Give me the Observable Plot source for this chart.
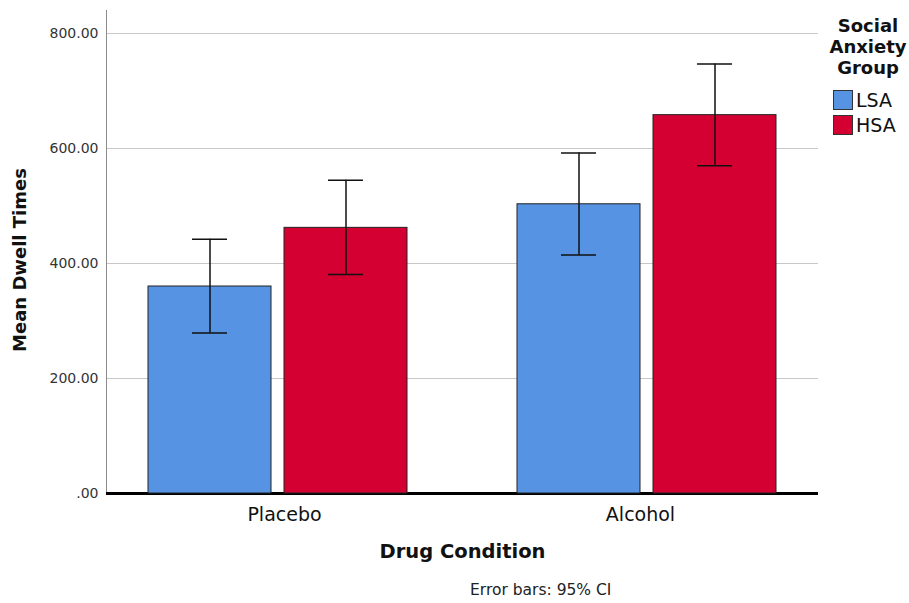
<!DOCTYPE html>
<html><head><meta charset="utf-8">
<script src="https://cdn.jsdelivr.net/npm/d3@7"></script>
<script src="https://cdn.jsdelivr.net/npm/@observablehq/plot@0.6"></script>
<style>
body{margin:0;background:#fff;font-family:"DejaVu Sans",sans-serif;color:#111;}
#wrap{position:relative;width:909px;height:603px;overflow:hidden;}
#wrap svg{position:absolute;left:0;top:0;}
#legend{position:absolute;left:826px;top:15px;width:84px;}
#legend .lt{font-weight:bold;font-size:18px;line-height:21px;text-align:center;margin-bottom:9px;}
#legend .row{display:flex;align-items:center;height:25px;font-size:19px;}
#legend .sw{width:20px;height:20px;border:1px solid #333;margin-left:7px;margin-right:3px;box-sizing:border-box;}
#caption{position:absolute;left:470px;top:581px;font-size:15.5px;color:#222;}
</style></head><body><div id="wrap"></div>
<script>
const drugs = ["Placebo", "Alcohol"];
const groups = ["LSA", "HSA"];
const groupColors = ["#5694e3", "#d50032"];
const lsaMean = [360, 503];
const lsaLower = [279, 415];
const lsaUpper = [442, 592];
const hsaMean = [462, 658];
const hsaLower = [381, 570];
const hsaUpper = [545, 747];
const yTicks = [0, 200, 400, 600, 800];
const yTickLabels = [".00", "200.00", "400.00", "600.00", "800.00"];

const rows = [];
drugs.forEach((d, i) => {
  rows.push({drug: d, group: "LSA", mean: lsaMean[i], lo: lsaLower[i], hi: lsaUpper[i]});
  rows.push({drug: d, group: "HSA", mean: hsaMean[i], lo: hsaLower[i], hi: hsaUpper[i]});
});

const common = {
  width: 909, height: 575,
  marginLeft: 106, marginRight: 91, marginTop: 10, marginBottom: 82,
  y: {domain: [0, 840], axis: null}
};
const band = {domain: drugs, paddingInner: 0.298, paddingOuter: 0.113};

// Background layer: grid, axes, axis titles
const back = Plot.plot({
  ...common,
  style: {fontFamily: "DejaVu Sans, sans-serif", background: "#fff", color: "#111"},
  x: {...band, axis: null},
  marks: [
    Plot.ruleY(yTicks.slice(1), {stroke: "#c8c8c8", strokeWidth: 1.2}),
    Plot.frame({anchor: "left", stroke: "#8a8a8a"}),
    Plot.axisY({ticks: yTicks, tickFormat: d => yTickLabels[yTicks.indexOf(d)], tickSize: 0, tickPadding: 8, fontSize: 14, label: null, color: "#333"}),
    Plot.axisX({anchor: "bottom", tickSize: 0, tickPadding: 14, fontSize: 19, label: null}),
    Plot.ruleY([0], {stroke: "#000", strokeWidth: 3}),
    Plot.text(["Mean Dwell Times"], {frameAnchor: "left", textAnchor: "middle", rotate: -90, dx: -86, dy: 8, fontSize: 18, fontWeight: "bold"}),
    Plot.text(["Drug Condition"], {frameAnchor: "bottom", dy: 64, fontSize: 19.5, fontWeight: "bold"})
  ]
});

// Foreground layer: bars and error bars, faceted by drug
const front = Plot.plot({
  ...common,
  style: {background: "transparent"},
  fx: {...band, axis: null},
  x: {domain: groups, paddingInner: 0.099, paddingOuter: 0, axis: null},
  color: {domain: groups, range: groupColors},
  marks: [
    Plot.barY(rows, {fx: "drug", x: "group", y: "mean", fill: "group", stroke: "#222", strokeWidth: 1}),
    Plot.ruleX(rows, {fx: "drug", x: "group", y1: "lo", y2: "hi", stroke: "#111", strokeWidth: 1.5}),
    Plot.tickY(rows, {fx: "drug", x: "group", y: "lo", inset: 44, stroke: "#111", strokeWidth: 1.5}),
    Plot.tickY(rows, {fx: "drug", x: "group", y: "hi", inset: 44, stroke: "#111", strokeWidth: 1.5})
  ]
});

const wrap = document.getElementById("wrap");
wrap.appendChild(back);
wrap.appendChild(front);

const legend = document.createElement("div");
legend.id = "legend";
legend.innerHTML = '<div class="lt">Social<br>Anxiety<br>Group</div>' +
  groups.map((g, i) => `<div class="row"><span class="sw" style="background:${groupColors[i]}"></span>${g}</div>`).join("");
wrap.appendChild(legend);

const cap = document.createElement("div");
cap.id = "caption";
cap.textContent = "Error bars: 95% CI";
wrap.appendChild(cap);
</script>
</body></html>
